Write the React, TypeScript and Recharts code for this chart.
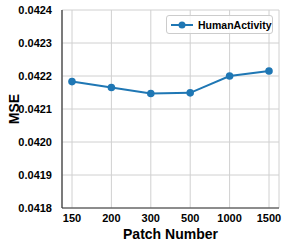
import { LineChart, Line, XAxis, YAxis, CartesianGrid } from "recharts";

const patchNumbers = ["150", "200", "300", "500", "1000", "1500"];
const humanActivityMse = [0.042183, 0.042165, 0.042147, 0.042149, 0.0422, 0.042215];
const yTicks = [0.0418, 0.0419, 0.042, 0.0421, 0.0422, 0.0423, 0.0424];

const data = patchNumbers.map((p, i) => ({ patch: p, HumanActivity: humanActivityMse[i] }));

const font = "'Liberation Sans', Arial, sans-serif";
const frame = "#333";
const blue = "#1f77b4";

export default function App() {
  return (
    <div style={{ position: "absolute", left: 0, top: 0, width: 287, height: 246, background: "#fff" }}>
      <LineChart
        width={287}
        height={246}
        data={data}
        margin={{ top: 10, right: 8, left: 0, bottom: 0 }}
        style={{ fontFamily: font }}
      >
        <CartesianGrid stroke="#d0d0d0" strokeWidth={1} />
        <XAxis
          dataKey="patch"
          scale="point"
          padding={{ left: 10, right: 10 }}
          height={38}
          tickLine={false}
          axisLine={{ stroke: frame, strokeWidth: 1.2 }}
          tick={{ fontSize: 11, fontWeight: "bold", fill: "#000" }}
          tickMargin={0}
          interval={0}
          label={{ value: "Patch Number", position: "insideBottom", offset: 7, fontSize: 14, fontWeight: "bold", fill: "#000" }}
        />
        <XAxis
          xAxisId="top"
          dataKey="patch"
          orientation="top"
          scale="point"
          padding={{ left: 10, right: 10 }}
          height={0}
          tick={false}
          tickLine={false}
          axisLine={{ stroke: frame, strokeWidth: 1.2 }}
        />
        <YAxis
          domain={[0.0418, 0.0424]}
          ticks={yTicks}
          width={62}
          tickLine={false}
          axisLine={{ stroke: frame, strokeWidth: 1.2 }}
          tick={{ fontSize: 11, fontWeight: "bold", fill: "#000" }}
          tickFormatter={(v: number) => v.toFixed(4)}
          tickMargin={4}
          label={{ value: "MSE", angle: -90, position: "insideLeft", offset: 14, fontSize: 14, fontWeight: "bold", fill: "#000", style: { textAnchor: "middle" } }}
        />
        <YAxis
          yAxisId="right"
          orientation="right"
          domain={[0.0418, 0.0424]}
          width={0}
          tick={false}
          tickLine={false}
          axisLine={{ stroke: frame, strokeWidth: 1.2 }}
        />
        <Line
          type="linear"
          dataKey="HumanActivity"
          stroke={blue}
          strokeWidth={2}
          dot={{ r: 3.8, fill: blue, stroke: blue, strokeWidth: 0 }}
          activeDot={false}
          isAnimationActive={false}
        />
      </LineChart>
      <div
        style={{
          position: "absolute",
          left: 166,
          top: 15,
          width: 107,
          height: 19,
          boxSizing: "border-box",
          border: "1px solid #ccc",
          borderRadius: 3,
          background: "rgba(255,255,255,0.85)",
          display: "flex",
          alignItems: "center",
          paddingLeft: 4,
          fontSize: 10.5,
          fontWeight: "bold",
          fontFamily: font,
        }}
      >
        <svg width={22} height={10} style={{ marginRight: 5 }}>
          <line x1={0} y1={5} x2={22} y2={5} stroke={blue} strokeWidth={2} />
          <circle cx={11} cy={5} r={3.5} fill={blue} />
        </svg>
        HumanActivity
      </div>
    </div>
  );
}
